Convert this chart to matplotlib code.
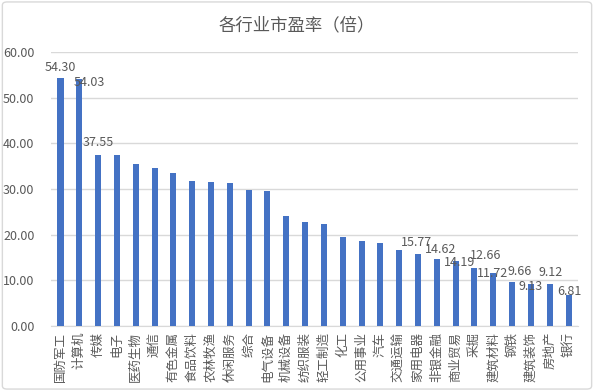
import numpy as np
import matplotlib
matplotlib.use("Agg")
import matplotlib.pyplot as plt
from matplotlib.patches import FancyBboxPatch

plt.rcParams['font.family'] = ['Noto Sans CJK SC', 'DejaVu Sans']

###### data ######
industries = ["国防军工", "计算机", "传媒", "电子", "医药生物", "通信", "有色金属",
              "食品饮料", "农林牧渔", "休闲服务", "综合", "电气设备", "机械设备",
              "纺织服装", "轻工制造", "化工", "公用事业", "汽车", "交通运输",
              "家用电器", "非银金融", "商业贸易", "采掘", "建筑材料", "钢铁",
              "建筑装饰", "房地产", "银行"]
pe = [54.30, 54.03, 37.55, 37.4, 35.4, 34.5, 33.6,
      31.75, 31.45, 31.4, 29.9, 29.6, 24.2,
      22.8, 22.4, 19.6, 18.6, 18.1, 16.6,
      15.77, 14.62, 14.19, 12.66, 11.72, 9.66,
      9.13, 9.12, 6.81]
# which bars carry a value label, and where (pixel offset from bar top)
labelled = {"国防军工": (0, 11), "计算机": (10, -3), "传媒": (0, 12),
            "家用电器": (-2, 12), "非银金融": (4, 10), "商业贸易": (4, -1),
            "采掘": (11, 13), "建筑材料": (-1, -1), "钢铁": (8, 10),
            "建筑装饰": (0, -2), "房地产": (1, 12), "银行": (1, 3)}

grey = '#595959'
blue = '#4472C4'

fig = plt.figure(figsize=(5.94, 3.91), dpi=100)
ax = fig.add_axes([0.086, 0.166, 0.887, 0.701])

x = np.arange(len(industries))
ax.bar(x, pe, width=0.32, color=blue, zorder=3)

for i, (name, v) in enumerate(zip(industries, pe)):
    if name in labelled:
        dx, dy = labelled[name]
        ax.annotate("%.2f" % v, (i, v), xytext=(dx, dy), textcoords='offset pixels',
                    ha='center', va='center', fontsize=9, color=grey, zorder=4)

ax.set_xlim(-0.5, len(industries) - 0.5)
ax.set_ylim(0, 60)
ax.set_yticks(np.arange(0, 61, 10))
ax.set_yticklabels(["%.2f" % t for t in np.arange(0, 61, 10)])
ax.set_xticks(x)
ax.set_xticklabels(industries, rotation=90, va='top', ha='center')
ax.tick_params(axis='both', length=0, colors=grey, labelsize=9)
ax.tick_params(axis='y', pad=12)
ax.tick_params(axis='x', pad=4)
ax.grid(axis='y', color='#d9d9d9', lw=1, zorder=0)
for s in ['top', 'right', 'left']:
    ax.spines[s].set_visible(False)
ax.spines['bottom'].set_color('#d9d9d9')

fig.text(0.5, 0.936, "各行业市盈率（倍）", ha='center', va='center',
         fontsize=12.5, color=grey)

border = FancyBboxPatch((0.004, 0.005), 0.992, 0.99, boxstyle="round,pad=0,rounding_size=0.008",
                        transform=fig.transFigure, fill=False, edgecolor='#d9d9d9', lw=1)
fig.patches.append(border)

fig.savefig("out.png", dpi=100)
